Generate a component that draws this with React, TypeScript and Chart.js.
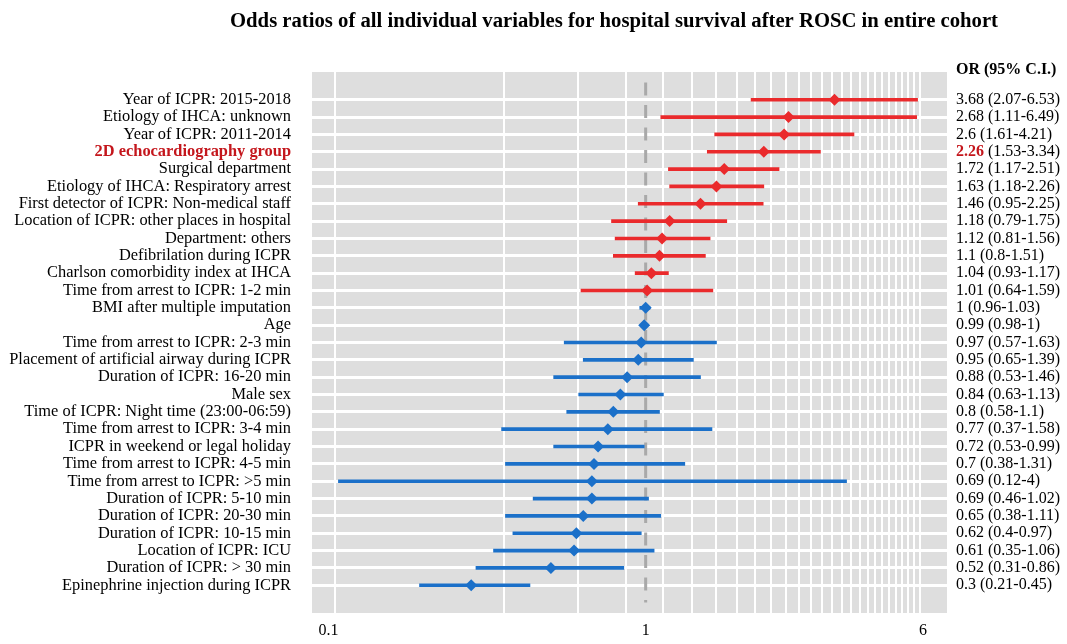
import React, { useEffect, useRef } from 'react';
import { Chart, registerables } from 'chart.js';

Chart.register(...registerables);

const TITLE = 'Odds ratios of all individual variables for hospital survival after ROSC in entire cohort';
const RIGHT_HEADER = 'OR (95% C.I.)';
const HIGHLIGHT_LABEL = '2D echocardiography group';

const LABELS = [
  'Year of ICPR: 2015-2018',
  'Etiology of IHCA: unknown',
  'Year of ICPR: 2011-2014',
  '2D echocardiography group',
  'Surgical department',
  'Etiology of IHCA: Respiratory arrest',
  'First detector of ICPR: Non-medical staff',
  'Location of ICPR: other places in hospital',
  'Department: others',
  'Defibrilation during ICPR',
  'Charlson comorbidity index at IHCA',
  'Time from arrest to ICPR: 1-2 min',
  'BMI after multiple imputation',
  'Age',
  'Time from arrest to ICPR: 2-3 min',
  'Placement of artificial airway during ICPR',
  'Duration of ICPR: 16-20 min',
  'Male sex',
  'Time of ICPR: Night time (23:00-06:59)',
  'Time from arrest to ICPR: 3-4 min',
  'ICPR in weekend or legal holiday',
  'Time from arrest to ICPR: 4-5 min',
  'Time from arrest to ICPR: >5 min',
  'Duration of ICPR: 5-10 min',
  'Duration of ICPR: 20-30 min',
  'Duration of ICPR: 10-15 min',
  'Location of ICPR: ICU',
  'Duration of ICPR: > 30 min',
  'Epinephrine injection during ICPR',
];

const OR_VALUES = [3.68, 2.68, 2.6, 2.26, 1.72, 1.63, 1.46, 1.18, 1.12, 1.1, 1.04, 1.01, 1, 0.99, 0.97, 0.95, 0.88, 0.84, 0.8, 0.77, 0.72, 0.7, 0.69, 0.69, 0.65, 0.62, 0.61, 0.52, 0.3];
const CI_LOW = [2.07, 1.11, 1.61, 1.53, 1.17, 1.18, 0.95, 0.79, 0.81, 0.8, 0.93, 0.64, 0.96, 0.98, 0.57, 0.65, 0.53, 0.63, 0.58, 0.37, 0.53, 0.38, 0.12, 0.46, 0.38, 0.4, 0.35, 0.31, 0.21];
const CI_HIGH = [6.53, 6.49, 4.21, 3.34, 2.51, 2.26, 2.25, 1.75, 1.56, 1.51, 1.17, 1.59, 1.03, 1, 1.63, 1.39, 1.46, 1.13, 1.1, 1.58, 0.99, 1.31, 4, 1.02, 1.11, 0.97, 1.06, 0.86, 0.45];

const X_GRID_VALUES = [0.117, 0.375, 0.625, 0.875, 1.125, 1.375, 1.625, 1.875, 2.125, 2.375, 2.625, 2.875, 3.125, 3.375, 3.625, 3.875, 4.125, 4.375, 4.625, 4.875, 5.125, 5.375, 5.625, 5.875, 6.125, 6.375, 6.625];
const X_TICK_VALUES = [0.112, 1, 6.78];
const X_TICK_LABELS = ['0.1', '1', '6'];
const REFERENCE_VALUE = 1;

const RED = '#EA2A2C';
const BLUE = '#1B70C9';
const DARK_RED = '#C4161C';
const BG = '#DEDEDE';
const FONT = "'Liberation Serif', 'Times New Roman', serif";
const LABEL_SIZE = 16.4;

export default function App() {
  const ref = useRef<HTMLCanvasElement | null>(null);

  useEffect(() => {
    const canvas = ref.current;
    if (!canvas) return;
    const colors = OR_VALUES.map((v) => (v > REFERENCE_VALUE ? RED : BLUE));

    const forestPlugin = {
      id: 'forestDecor',
      beforeDraw(chart: any) {
        const { ctx, chartArea } = chart;
        ctx.save();
        ctx.fillStyle = BG;
        ctx.fillRect(chartArea.left, chartArea.top, chartArea.right - chartArea.left, chartArea.bottom - chartArea.top);
        ctx.restore();
      },
      afterDraw(chart: any) {
        const { ctx } = chart;
        const yScale = chart.scales.y;
        ctx.save();
        ctx.fillStyle = '#000';
        ctx.textAlign = 'center';
        ctx.textBaseline = 'middle';
        ctx.font = `bold 20.7px ${FONT}`;
        ctx.fillText(TITLE, 614, 22);
        ctx.textAlign = 'left';
        ctx.font = `bold 16px ${FONT}`;
        ctx.fillText(RIGHT_HEADER, 956, 70);
        const x0 = 956;
        LABELS.forEach((lab, i) => {
          const y = yScale.getPixelForValue(i + 1);
          const orText = String(OR_VALUES[i]);
          const rest = ` (${CI_LOW[i]}-${CI_HIGH[i]})`;
          const hl = lab === HIGHLIGHT_LABEL;
          ctx.font = hl ? `bold 16px ${FONT}` : `16px ${FONT}`;
          ctx.fillStyle = hl ? DARK_RED : '#000';
          ctx.fillText(orText, x0, y);
          const w = ctx.measureText(orText).width;
          ctx.font = `16px ${FONT}`;
          ctx.fillStyle = '#000';
          ctx.fillText(rest, x0 + w, y);
        });
        ctx.restore();
      },
    };

    const chart = new Chart(canvas, {
      type: 'scatter',
      data: {
        datasets: [
          {
            type: 'scatter',
            data: OR_VALUES.map((v, i) => ({ x: v, y: i + 1 })),
            pointStyle: 'rectRot',
            pointRadius: 6,
            pointHoverRadius: 6,
            backgroundColor: colors,
            borderColor: colors,
            borderWidth: 0,
            order: 1,
          } as any,
          {
            type: 'bar',
            indexAxis: 'y',
            data: LABELS.map((_, i) => ({ x: [CI_LOW[i], CI_HIGH[i]], y: i + 1 })),
            backgroundColor: colors,
            borderWidth: 0,
            barThickness: 3,
            grouped: false,
            order: 2,
          } as any,
          {
            type: 'line',
            data: [
              { x: REFERENCE_VALUE, y: 0 },
              { x: REFERENCE_VALUE, y: 30 },
            ],
            borderColor: '#A9A9A9',
            borderWidth: 3,
            borderDash: [13, 9.5],
            pointRadius: 0,
            fill: false,
            order: 3,
          } as any,
        ],
      },
      options: {
        responsive: false,
        animation: false,
        events: [],
        layout: { padding: { top: 72, right: 120, bottom: 0, left: 0 } },
        plugins: {
          legend: { display: false },
          tooltip: { enabled: false },
          title: { display: false },
        },
        scales: {
          x: {
            type: 'logarithmic',
            min: 0.1,
            max: 8,
            offset: false,
            border: { display: false },
            grid: {
              offset: false,
              drawTicks: false,
              lineWidth: 2,
              color: (ctx: any) =>
                ctx.tick && X_TICK_VALUES.includes(ctx.tick.value) ? 'rgba(0,0,0,0)' : '#FFFFFF',
            },
            ticks: {
              autoSkip: false,
              maxRotation: 0,
              minRotation: 0,
              padding: 8,
              color: '#000',
              font: { family: FONT, size: 16 },
              callback: (value: any) => {
                const idx = X_TICK_VALUES.indexOf(Number(value));
                return idx >= 0 ? X_TICK_LABELS[idx] : '';
              },
            },
            afterBuildTicks: (scale: any) => {
              const vals = [...X_GRID_VALUES, ...X_TICK_VALUES].sort((a, b) => a - b);
              scale.ticks = vals.map((v) => ({ value: v }));
            },
            afterFit: (scale: any) => {
              scale.height = 31;
            },
          } as any,
          y: {
            type: 'linear',
            reverse: true,
            min: -0.6,
            max: 30.6,
            offset: false,
            border: { display: false },
            grid: { color: '#FFFFFF', lineWidth: 3, drawTicks: false, offset: false },
            ticks: {
              autoSkip: false,
              padding: 21,
              color: (ctx: any) => (LABELS[ctx.index] === HIGHLIGHT_LABEL ? DARK_RED : '#000'),
              font: (ctx: any) =>
                LABELS[ctx.index] === HIGHLIGHT_LABEL
                  ? { family: FONT, size: LABEL_SIZE, weight: 'bold' }
                  : { family: FONT, size: LABEL_SIZE },
              callback: (value: any) => LABELS[Number(value) - 1] ?? '',
            },
            afterBuildTicks: (scale: any) => {
              scale.ticks = LABELS.map((_, i) => ({ value: i + 1 }));
            },
            afterFit: (scale: any) => {
              scale.width = 312;
            },
          } as any,
        },
      },
      plugins: [forestPlugin],
    });

    return () => {
      chart.destroy();
    };
  }, []);

  return (
    <div style={{ position: 'fixed', left: 0, top: 0, width: 1067, height: 644, background: '#fff' }}>
      <canvas ref={ref} width={1067} height={644} style={{ width: 1067, height: 644, display: 'block' }} />
    </div>
  );
}
